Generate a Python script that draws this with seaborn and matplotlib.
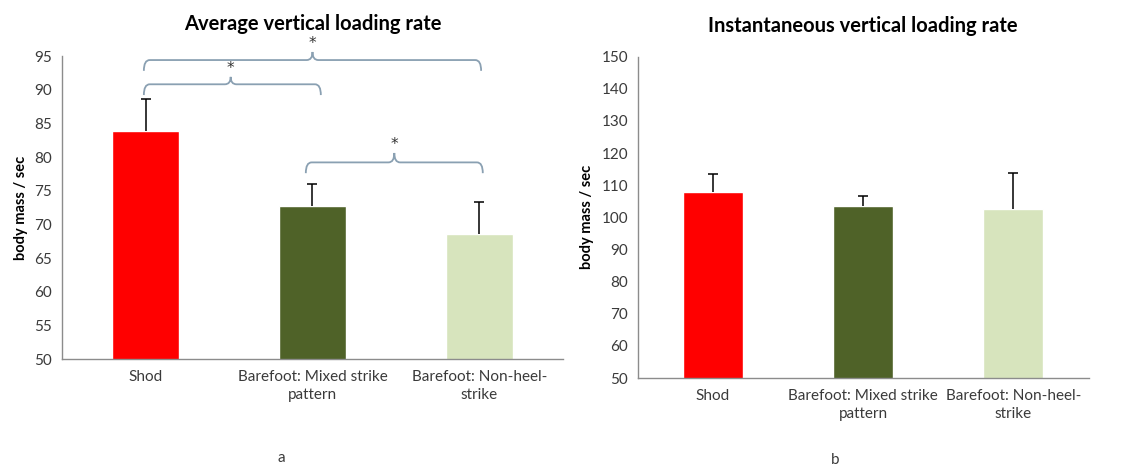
import matplotlib
matplotlib.use("Agg")
import matplotlib.pyplot as plt
import seaborn as sns
import pandas as pd
from matplotlib.path import Path
from matplotlib.patches import PathPatch

categories = ["Shod", "Barefoot: Mixed strike\npattern", "Barefoot: Non-heel-\nstrike"]
avg_values = [83.9, 72.7, 68.5]
avg_errors = [4.7, 3.3, 4.8]
inst_values = [107.8, 103.5, 102.5]
inst_errors = [5.8, 3.1, 11.4]
bar_colors = ["#ff0000", "#4f6228", "#d7e4bd"]
# significance braces: (left category pos, right category pos, peak pos, line y, end y, peak y)
braces = [
    (-0.01, 2.01, 1.0, 94.4, 92.8, 95.6),
    (-0.01, 1.05, 0.51, 90.8, 89.2, 91.9),
    (0.96, 2.02, 1.49, 79.2, 77.6, 80.6),
]

sns.set_theme(style="white")
plt.rcParams['font.family'] = ['Lato', 'DejaVu Sans']

fig = plt.figure(figsize=(11.32, 4.66), dpi=100)
ax1 = fig.add_axes([0.0548, 0.2296, 0.4425, 0.6502])
ax2 = fig.add_axes([0.5633, 0.1888, 0.3983, 0.6895])

txt_color = "#3a3a3a"
spine_color = "#8c8c8c"

def draw(ax, values, errors, ylim, step, title, tpad):
    df = pd.DataFrame({"cat": categories, "val": values})
    sns.barplot(data=df, x="cat", y="val", hue="cat", palette=bar_colors,
                width=0.4, ax=ax, legend=False, errorbar=None, saturation=1)
    eb = ax.errorbar(range(len(values)), values, yerr=[[0]*len(values), errors],
                     fmt="none", ecolor="black", elinewidth=1.1, capsize=3.5, capthick=1.1)
    caps = eb[1]
    if len(caps) > 1:
        caps[0].set_visible(False)
    ax.set_ylim(*ylim)
    ax.set_xlim(-0.5, 2.5)
    ax.set_yticks(range(ylim[0], ylim[1] + 1, step))
    for s in ["top", "right"]:
        ax.spines[s].set_visible(False)
    for s in ["left", "bottom"]:
        ax.spines[s].set_color(spine_color)
        ax.spines[s].set_linewidth(1.0)
    ax.tick_params(axis="both", length=0, labelsize=11, colors=txt_color)
    ax.tick_params(axis="x", pad=8)
    ax.tick_params(axis="y", pad=7)
    for lbl in ax.get_xticklabels():
        lbl.set_linespacing(1.35)
    ax.set_xlabel("")
    ax.set_ylabel("body mass / sec", fontsize=10.5, fontweight="bold", color="black", labelpad=5)
    ax.set_title(title, fontsize=14.5, fontweight="bold", color="black", pad=tpad)

draw(ax1, avg_values, avg_errors, (50, 95), 5, "Average vertical loading rate", 19)
draw(ax2, inst_values, inst_errors, (50, 150), 10, "Instantaneous vertical loading rate", 18)

brace_color = "#8aa0b2"
dx = 0.035
for (x0, x1, xm, yl, ye, yp) in braces:
    verts = [(x0, ye), (x0, yl), (x0 + dx, yl),
             (xm - dx, yl),
             (xm, yl), (xm, yp),
             (xm, yl), (xm + dx, yl),
             (x1 - dx, yl),
             (x1, yl), (x1, ye)]
    codes = [Path.MOVETO, Path.CURVE3, Path.CURVE3,
             Path.LINETO,
             Path.CURVE3, Path.CURVE3,
             Path.CURVE3, Path.CURVE3,
             Path.LINETO,
             Path.CURVE3, Path.CURVE3]
    ax1.add_patch(PathPatch(Path(verts, codes), facecolor="none", edgecolor=brace_color,
                            lw=1.3, clip_on=False))
    ax1.text(xm, yp + 0.1, "*", ha="center", va="bottom", fontsize=11, color="#333333",
             family="DejaVu Sans", clip_on=False)

fig.text(281 / 1132, 1 - 458 / 466, "a", ha="center", va="center", fontsize=11, color=txt_color)
fig.text(835 / 1132, 1 - 460 / 466, "b", ha="center", va="center", fontsize=11, color=txt_color)

fig.savefig("out.png", dpi=100, facecolor="white")
